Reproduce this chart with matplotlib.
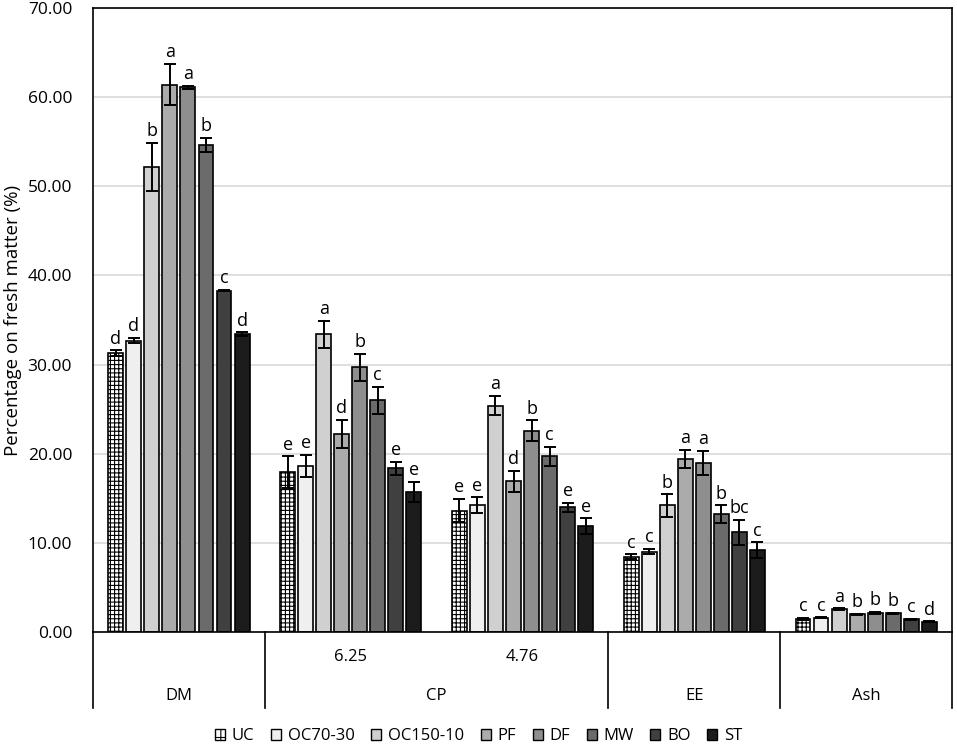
import numpy as np
import matplotlib
matplotlib.use("Agg")
import matplotlib.pyplot as plt
from matplotlib.patches import Patch

plt.rcParams['font.family'] = ['Open Sans', 'DejaVu Sans']
plt.rcParams['hatch.linewidth'] = 0.8

# Datos
tratamientos = ['UC', 'OC70-30', 'OC150-10', 'PF', 'DF', 'MW', 'BO', 'ST']
colores = ['#ffffff', '#efefef', '#d0d0d0', '#ababab', '#8e8e8e', '#6b6b6b', '#404040', '#1c1c1c']

dm = [31.3, 32.7, 52.2, 61.4, 61.1, 54.6, 38.3, 33.4]
dm_err = [0.3, 0.3, 2.7, 2.3, 0.15, 0.8, 0.1, 0.2]
dm_let = ['d', 'd', 'b', 'a', 'a', 'b', 'c', 'd']

cp625 = [17.9, 18.6, 33.4, 22.2, 29.7, 26.0, 18.35, 15.7]
cp625_err = [1.8, 1.25, 1.5, 1.6, 1.5, 1.5, 0.75, 1.1]
cp625_let = ['e', 'e', 'a', 'd', 'b', 'c', 'e', 'e']

cp476 = [13.6, 14.2, 25.4, 16.9, 22.6, 19.7, 14.0, 11.9]
cp476_err = [1.3, 0.9, 1.1, 1.2, 1.15, 1.05, 0.5, 0.85]
cp476_let = ['e', 'e', 'a', 'd', 'b', 'c', 'e', 'e']

ee = [8.45, 9.0, 14.2, 19.4, 18.95, 13.2, 11.2, 9.2]
ee_err = [0.25, 0.3, 1.25, 1.0, 1.35, 1.0, 1.4, 0.85]
ee_let = ['c', 'c', 'b', 'a', 'a', 'b', 'bc', 'c']

ash = [1.5, 1.6, 2.55, 2.0, 2.15, 2.1, 1.45, 1.15]
ash_err = [0.1, 0.05, 0.1, 0.05, 0.1, 0.05, 0.05, 0.05]
ash_let = ['c', 'c', 'a', 'b', 'b', 'b', 'c', 'd']

grupos_val = [dm, cp625, cp476, ee, ash]
grupos_err = [dm_err, cp625_err, cp476_err, ee_err, ash_err]
grupos_let = [dm_let, cp625_let, cp476_let, ee_let, ash_let]

sub_labels = ['', '6.25', '4.76', '', '']
main_labels = ['DM', 'CP', 'EE', 'Ash']
main_pos = [0, 1.5, 3, 4]

# Gráfico
fig = plt.figure(figsize=(9.57, 7.46), dpi=100)
ax = fig.add_axes([0.0972, 0.1528, 0.8976, 0.8365])

x = np.arange(len(grupos_val))
paso = 0.105
ancho = 0.087

for j, trat in enumerate(tratamientos):
    vals = [g[j] for g in grupos_val]
    errs = [g[j] for g in grupos_err]
    pos = x + (j - 3.5) * paso
    ax.bar(pos, vals, width=ancho, color=colores[j], edgecolor='black', linewidth=1.2,
           hatch='++++' if trat == 'UC' else None, zorder=2)
    ax.errorbar(pos, vals, yerr=errs, fmt='none', ecolor='black', elinewidth=1.4,
                capsize=4, capthick=1.4, zorder=3)
    for k in range(len(vals)):
        ax.annotate(grupos_let[k][j], (pos[k], vals[k] + errs[k]), xytext=(0, 2),
                    textcoords='offset points', ha='center', va='bottom', fontsize=13)

ax.set_xlim(-0.5, 4.5)
ax.set_ylim(0, 70)
ax.set_yticks(np.arange(0, 71, 10))
ax.set_yticklabels(['%.2f' % v for v in np.arange(0, 71, 10)])
ax.tick_params(axis='y', length=0, labelsize=12.5, pad=15)
ax.set_xticks([])
ax.yaxis.grid(True, color='#d9d9d9', linewidth=1.2)
ax.set_axisbelow(True)
for s in ax.spines.values():
    s.set_color('black')
    s.set_linewidth(1.2)
ax.set_ylabel('Percentage on fresh matter (%)', fontsize=13.5, labelpad=4)

# Cuadro de categorías
trans = ax.get_xaxis_transform()
fondo = -0.121
for xv in [-0.5, 0.5, 2.5, 3.5, 4.5]:
    ax.plot([xv, xv], [0, fondo], color='black', linewidth=1.2, transform=trans, clip_on=False)
for i, lab in enumerate(sub_labels):
    if lab:
        ax.text(i, -0.04, lab, transform=trans, ha='center', va='center', fontsize=12)
for p, lab in zip(main_pos, main_labels):
    ax.text(p, -0.103, lab, transform=trans, ha='center', va='center', fontsize=12)

handles = [Patch(facecolor=colores[j], edgecolor='black', linewidth=1.0,
                 hatch='++' if t == 'UC' else None, label=t) for j, t in enumerate(tratamientos)]
fig.legend(handles=handles, loc='center', bbox_to_anchor=(0.5, 0.013), ncol=8, frameon=False,
           fontsize=12, handlelength=0.6, handleheight=0.6, handletextpad=0.4, columnspacing=1.0)

plt.savefig('out.png', dpi=100)
